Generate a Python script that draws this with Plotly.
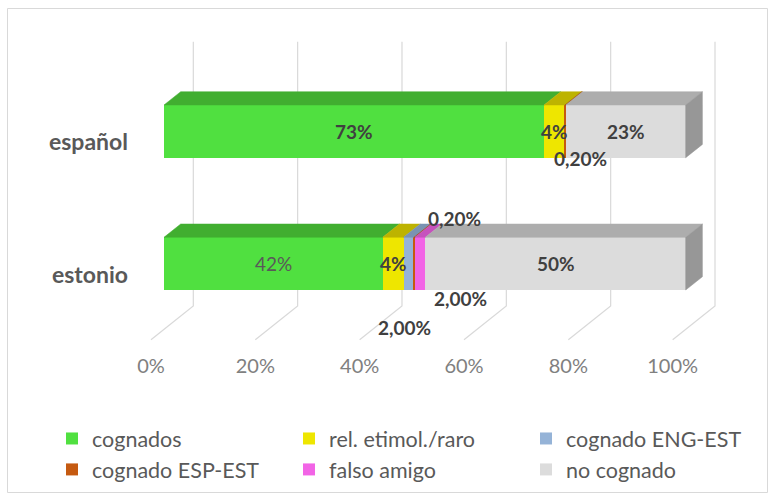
import plotly.graph_objects as go

# ---------------- data ----------------
categories = ["español", "estonio"]
series_names = ["cognados", "rel. etimol./raro", "cognado ENG-EST",
                "cognado ESP-EST", "falso amigo", "no cognado"]
cognados = [73, 42]
rel_etimol = [4, 4]
cognado_eng_est = [0, 2]
cognado_esp_est = [0.2, 0.2]
falso_amigo = [0, 2]
no_cognado = [23, 50]
tick_values = [0, 20, 40, 60, 80, 100]
tick_labels = [f"{t}%" for t in tick_values]

series_values = [cognados, rel_etimol, cognado_eng_est,
                 cognado_esp_est, falso_amigo, no_cognado]

# ---------------- styles ----------------
front_colors = ["#50E040", "#EEE600", "#95B3D7", "#C55A11", "#F264E6", "#DCDCDC"]
top_colors = ["#41AE30", "#BDB300", "#7A93B2", "#A0490E", "#C652BD", "#ADADAD"]
side_color = "#979797"
label_formats = ["int", "int", "dec", "dec", "dec", "int"]
label_bold = {(0, 1): False}          # (series, row) -> weight override
label_shift = {                        # (series, row) -> (dx, dy) in px
    (3, 0): (15, -27),
    (2, 1): (-4, -64),
    (3, 1): (40, 45),
    (4, 1): (40, -35),
}

FONT = "Lato"
W, H = 775, 499

# ---------------- geometry (pixels) ----------------
FRONT_X0, FRONT_X1 = 164.0, 685.7      # 0 % and 100 % on the bar fronts
ROW0_Y, ROW_PITCH = 131.35, 132.3      # centre of first row, row spacing
BAR_H = 52.7
DEPTH_DX, DEPTH_DY = 16.7, 13.3        # oblique offset of the bar depth
WALL_DEPTH, FLOOR_DEPTH = 1.755, -0.78 # in bar-depth units
WALL_TOP_Y = 41.7

ppu = (FRONT_X1 - FRONT_X0) / 100.0
ddx = DEPTH_DX / ppu
ddy = DEPTH_DY / ROW_PITCH
bw = BAR_H / ROW_PITCH
rows = list(range(len(categories)))


def py(p):
    """pixel row -> y data units"""
    return (p - ROW0_Y) / ROW_PITCH


def fmt(v, kind):
    if kind == "int":
        return f"{v:.0f}%"
    return f"{v:.2f}%".replace(".", ",")


fig = go.Figure()

# front faces: 100 % stacked bars
totals = [sum(s[i] for s in series_values) for i in rows]
shares = [[s[i] / totals[i] * 100 for i in rows] for s in series_values]
for k, name in enumerate(series_names):
    fig.add_trace(go.Bar(
        name=name, y=rows, x=shares[k], orientation="h", width=bw,
        marker=dict(color=front_colors[k], line=dict(width=0)),
        hoverinfo="skip",
    ))

# top faces and right side of every bar
annotations = []
for i in rows:
    c0 = 0.0
    yt, yb = i - bw / 2, i + bw / 2
    last_end = 0.0
    for k in range(len(series_names)):
        c1 = c0 + shares[k][i]
        if shares[k][i] > 0:
            fig.add_trace(go.Scatter(
                x=[c0, c1, c1 + ddx, c0 + ddx, c0],
                y=[yt, yt, yt - ddy, yt - ddy, yt],
                mode="lines", fill="toself", fillcolor=top_colors[k],
                line=dict(width=0.5, color=top_colors[k]),
                showlegend=False, hoverinfo="skip",
            ))
            v = series_values[k][i]
            dx, dy = label_shift.get((k, i), (0, 0))
            bold = label_bold.get((k, i), True)
            annotations.append(dict(
                x=(c0 + c1) / 2, y=i, xref="x", yref="y",
                text=fmt(v, label_formats[k]), showarrow=False,
                xshift=dx, yshift=dy,
                font=dict(family=FONT, size=19,
                          color="#404040" if bold else "#595959",
                          weight="bold" if bold else "normal"),
            ))
            last_end = c1
        c0 = c1
    fig.add_trace(go.Scatter(
        x=[last_end, last_end + ddx, last_end + ddx, last_end, last_end],
        y=[yt, yt - ddy, yb - ddy, yb, yt],
        mode="lines", fill="toself", fillcolor=side_color,
        line=dict(width=0.5, color=side_color),
        showlegend=False, hoverinfo="skip",
    ))

# back-wall gridlines running into the floor
wall_bottom = py(306)
shapes = []
for t in tick_values:
    xb = t + WALL_DEPTH * ddx
    xf = t + FLOOR_DEPTH * ddx
    yf = wall_bottom + (WALL_DEPTH - FLOOR_DEPTH) * ddy
    shapes.append(dict(
        type="path", xref="x", yref="y", layer="below",
        path=f"M{xb},{py(WALL_TOP_Y)} L{xb},{wall_bottom} L{xf},{yf}",
        line=dict(color="#D9D9D9", width=1.2),
    ))

# chart border
shapes.append(dict(type="rect", xref="paper", yref="paper",
                   x0=7.5 / W, x1=767.5 / W, y0=1 - 492.5 / H, y1=1 - 8.5 / H,
                   line=dict(color="#D9D9D9", width=1), layer="below"))

# floor axis carrying the percentage ticks
floor_x0 = FRONT_X0 + FLOOR_DEPTH * DEPTH_DX
fig.add_trace(go.Scatter(x=[tick_values[0]], y=[0], xaxis="x2", mode="markers",
                         marker=dict(opacity=0), showlegend=False,
                         hoverinfo="skip"))

fig.update_layout(
    width=W, height=H,
    margin=dict(l=0, r=0, t=0, b=0),
    paper_bgcolor="white", plot_bgcolor="white",
    barmode="stack",
    showlegend=True,
    xaxis=dict(range=[-FRONT_X0 / ppu, (W - FRONT_X0) / ppu],
               visible=False, fixedrange=True),
    xaxis2=dict(range=[-floor_x0 / ppu, (W - floor_x0) / ppu],
                overlaying="x", anchor="free", position=1 - 352 / H,
                tickmode="array", tickvals=tick_values, ticktext=tick_labels,
                showgrid=False, zeroline=False, showline=False, ticks="",
                tickfont=dict(family=FONT, size=20, color="#808080")),
    yaxis=dict(range=[py(H), py(0)], anchor="free", position=128 / W,
               tickvals=rows, ticktext=categories,
               showgrid=False, zeroline=False, showline=False, ticks="",
               ticklabelshift=-11,
               tickfont=dict(family=FONT, size=23, color="#595959",
                             weight="bold")),
    legend=dict(orientation="h", x=52 / W, y=1 - 418 / H,
                xanchor="left", yanchor="top",
                entrywidth=192, entrywidthmode="pixels",
                font=dict(family=FONT, size=21.5, color="#595959"),
                bgcolor="rgba(0,0,0,0)", traceorder="normal"),
    shapes=shapes,
    annotations=annotations,
)

fig.write_html("out.html", config={"displayModeBar": False})
